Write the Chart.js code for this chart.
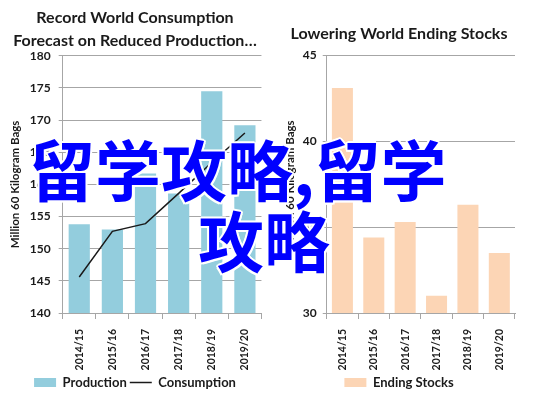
<!DOCTYPE html>
<html>
<head>
<meta charset="utf-8">
<script src="https://cdn.jsdelivr.net/npm/chart.js@4"></script>
<style>
  html, body { margin: 0; padding: 0; background: #fff; }
  body { width: 537px; height: 399px; position: relative; overflow: hidden; }
  .box { position: absolute; top: 0; height: 399px; }
  #leftBox { left: 0; width: 268px; }
  #rightBox { left: 268px; width: 269px; }
  .overlay {
    position: absolute; font-family: "Noto Sans CJK SC"; font-weight: 700;
    font-size: 66px; line-height: 1; color: #0000ff; white-space: nowrap;
    text-shadow: 2px 0 #fff, -2px 0 #fff, 0 2px #fff, 0 -2px #fff,
                 1.5px 1.5px #fff, -1.5px 1.5px #fff, 1.5px -1.5px #fff, -1.5px -1.5px #fff;
  }
</style>
</head>
<body>
<div class="box" id="leftBox"><canvas id="leftChart"></canvas></div>
<div class="box" id="rightBox"><canvas id="rightChart"></canvas></div>
<div class="overlay" style="left:29px; top:134px;">留学攻略,留学</div>
<div class="overlay" style="left:198px; top:205px;">攻略</div>
<script>
const seasons = ['2014/15', '2015/16', '2016/17', '2017/18', '2018/19', '2019/20'];
const production = [153.8, 153.0, 161.7, 158.6, 174.5, 169.2];
const consumption = [145.6, 152.7, 153.9, 158.6, 163.4, 168.0];
const endingStocks = [43.1, 34.4, 35.3, 31.0, 36.3, 33.5];

const FONT = 'Lato';
const GRID = '#a6a6a6';
const TXT = '#1a1a1a';

function yAxis(min, max, pad) {
  return {
    min: min, max: max,
    ticks: { stepSize: 5, color: TXT, padding: pad, font: { family: FONT, size: 12, weight: 'bold' } },
    grid: { color: GRID, lineWidth: 1, tickLength: 4 },
    border: { color: GRID },
    title: { display: true, text: 'Million 60 Kilogram Bags', color: TXT, padding: 0,
             font: { family: FONT, size: 11.5, weight: 'bold' } }
  };
}
const xAxis = {
  offset: true,
  afterFit: (scale) => { scale.height = 60; },
  ticks: { color: TXT, minRotation: 90, maxRotation: 90, padding: 10,
           font: { family: FONT, size: 10.5, weight: 'bold' } },
  grid: { offset: true, drawOnChartArea: false, color: GRID, tickLength: 6 },
  border: { color: GRID }
};
function legendOpts() {
  return {
    position: 'bottom',
    labels: { usePointStyle: true, pointStyleWidth: 22, boxHeight: 9, color: TXT, padding: 3,
              font: { family: FONT, size: 13, weight: 'bold' },
              sort: (a, b) => a.datasetIndex - b.datasetIndex }
  };
}

new Chart(document.getElementById('leftChart'), {
  type: 'bar',
  data: {
    labels: seasons,
    datasets: [
      { label: 'Production', data: production, backgroundColor: '#93cddd', pointStyle: 'rect',
        categoryPercentage: 1, barPercentage: 0.64, order: 2 },
      { type: 'line', label: 'Consumption', data: consumption, borderColor: '#1a1a1a',
        backgroundColor: '#1a1a1a', borderWidth: 1.5, pointRadius: 0, pointStyle: 'line', order: 1 }
    ]
  },
  options: {
    responsive: true, maintainAspectRatio: false, animation: false,
    layout: { padding: { top: 7, right: 6, left: 8, bottom: 0 } },
    plugins: {
      title: { display: true, text: ['Record World Consumption', 'Forecast on Reduced Production…'],
               color: TXT, font: { family: FONT, size: 16, weight: 'bold', lineHeight: 1.4 },
               padding: { top: 0, bottom: 4 } },
      legend: legendOpts(),
      tooltip: { enabled: false }
    },
    scales: { x: xAxis, y: yAxis(140, 180, 8) }
  }
});

new Chart(document.getElementById('rightChart'), {
  type: 'bar',
  data: {
    labels: seasons,
    datasets: [
      { label: 'Ending Stocks', data: endingStocks, backgroundColor: '#fcd5b5', pointStyle: 'rect',
        categoryPercentage: 1, barPercentage: 0.67 }
    ]
  },
  options: {
    responsive: true, maintainAspectRatio: false, animation: false,
    layout: { padding: { top: 7, right: 22, left: 15, bottom: 0 } },
    plugins: {
      title: { display: true, text: 'Lowering World Ending Stocks',
               color: TXT, font: { family: FONT, size: 16, weight: 'bold', lineHeight: 1.4 },
               padding: { top: 16, bottom: 10 } },
      legend: legendOpts(),
      tooltip: { enabled: false }
    },
    scales: { x: xAxis, y: yAxis(30, 45, 6) }
  }
});
</script>
</body>
</html>
